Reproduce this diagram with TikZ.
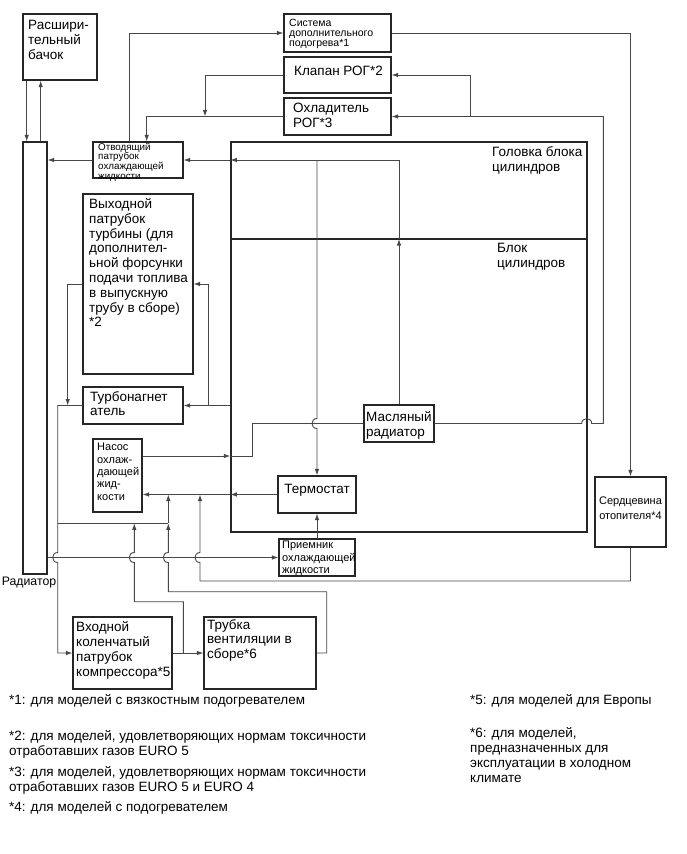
\documentclass[tikz,border=0pt]{standalone}
\usepackage{fontspec}
\setmainfont{Liberation Sans}
\usetikzlibrary{arrows.meta,fit}
\newcommand\fa{\fontsize{13.5}{14.8}\selectfont}
\newcommand\fb{\fontsize{10.5}{10.3}\selectfont}
\newcommand\fc{\fontsize{9.8}{9.2}\selectfont}
\newcommand\fd{\fontsize{11}{12.3}\selectfont}
\newcommand\fe{\fontsize{11}{15.3}\selectfont}
\newcommand\ff{\fontsize{13.5}{15}\selectfont}
\newcommand\fr{\fontsize{12.3}{14}\selectfont}
\begin{document}
\begin{tikzpicture}[x=1pt,y=-1pt,
  box/.style={draw=black!85, line width=1.2pt, inner sep=0pt},
  eng/.style={draw=black!85, line width=1.4pt, inner sep=0pt},
  ln/.style={draw=black!72, line width=0.9pt},
  arr/.style={ln, -{Latex[length=6.5pt,width=4.5pt]}},
  txt/.style={inner sep=0pt, anchor=north west, align=left},
  fn/.style={inner sep=0pt, font=\ff, align=left}]
\useasboundingbox[fill=white] (0,0) rectangle (687,854);

% boxes
\node[box, fit={(23,14) (97,80)}] (bachok) {};
\node[txt, font=\fa] (bachokt) at (28,20) {Расшири-\\тельный\\бачок};
\node[box, fit={(23,142) (47,574)}] (rad) {};
\node[inner sep=0pt, font=\fr] (radt) at (29,583) {Радиатор};
\node[box, fit={(284,14) (391,52)}] (sist) {};
\node[txt, font=\fb] (sistt) at (289,18.8) {Система\\дополнительного\\подогрева*1};
\node[box, fit={(284,57) (391,93)}] (klap) {};
\node[txt, font=\fa] (klapt) at (294,65.7) {Клапан РОГ*2};
\node[box, fit={(284,98) (391,135)}] (ohl) {};
\node[txt, font=\fa] (ohlt) at (293,102.7) {Охладитель\\РОГ*3};
\node[box, fit={(93,142) (183,178)}] (otvod) {};
\node[txt, font=\fc] (otvodt) at (98,143) {Отводящий\\патрубок\\охлаждающей\\жидкости};
\node[box, fit={(83,194) (193,374)}] (vyh) {};
\node[txt, font=\fa] (vyht) at (89,198.3) {Выходной\\патрубок\\турбины (для\\дополнител-\\ьной форсунки\\подачи топлива\\в выпускную\\трубу в сборе)\\*2};
\node[box, fit={(83,387) (183,424)}] (turbo) {};
\node[txt, font=\fa] (turbot) at (90,391) {Турбонагнет\\атель};
\node[box, fit={(93,439) (142,512)}] (nasos) {};
\node[txt, font=\fd] (nasost) at (97,443.2) {Насос\\охлаж-\\дающей\\жид-\\кости};
\node[eng, fit={(231,142) (587,532)}] (engine) {};
\draw[eng] (engine.west |- 0,239) -- (engine.east |- 0,239);
\node[txt, font=\fa] (golt) at (492,146.7) {Головка блока\\цилиндров};
\node[txt, font=\fa] (blokt) at (497,243) {Блок\\цилиндров};
\node[box, fit={(364,405) (434,442)}] (masl) {};
\node[txt, font=\fa] (maslt) at (366,411) {Масляный\\радиатор};
\node[box, fit={(278,476) (356,513)}, font=\fa] (termo) {Термостат};
\node[box, fit={(279,539) (355,576)}] (priem) {};
\node[txt, font=\fd] (priemt) at (282,541) {Приемник\\охлаждающей\\жидкости};
\node[box, fit={(595,477) (666,547)}, font=\fe, align=center] (serd) {Сердцевина\\отопителя*4};
\node[box, fit={(73,617) (172,689)}] (vhod) {};
\node[txt, font=\fa] (vhodt) at (76,621.7) {Входной\\коленчатый\\патрубок\\компрессора*5};
\node[box, fit={(204,617) (316,689)}] (trub) {};
\node[txt, font=\fa] (trubt) at (207,619) {Трубка\\вентиляции в\\сборе*6};

% connectors
\draw[arr] (26.7,0 |- bachok.south) -- (26.7,0 |- rad.north);
\draw[arr] (40.7,0 |- rad.north) -- (40.7,0 |- bachok.south);
\draw[arr] (otvod.west) -- (rad.east |- otvod.west);
\draw[arr] (129,0 |- otvod.north) -- (129,0 |- sist.west) -- (sist.west);
\draw[arr] (sist.east) -- (serd.north |- sist.east) -- (serd.north);
\draw[arr] (serd.south) -- (serd.south |- 0,581) -- (200,581) -- (200,562.5) .. controls (193.3,562.5) and (193.3,552.5) .. (200,552.5) -- (200,0 |- termo.west);
\draw[arr] (klap.west) -- (205,0 |- klap.west) -- (205,0 |- ohl.west);
\draw[arr] (ohl.west) -- (146.7,0 |- ohl.west) -- (146.7,0 |- otvod.north);
\draw[arr] (masl.east) -- (581.7,0 |- masl.east) .. controls (581.7,417) and (591.7,417) .. (591.7,0 |- masl.east) -- (603.3,0 |- masl.east) -- (603.3,0 |- ohl.east) -- (ohl.east);
\draw[arr] (470,0 |- ohl.east) -- (470,0 |- klap.east) -- (klap.east);
\draw[arr] (399,0 |- masl.north) -- (399,239);
\draw[arr] (399,239) -- (399,160) -- (engine.west |- 0,160);
\draw[arr] (engine.west |- 0,160) -- (otvod.east);
\draw[arr] (317,160) -- (317,418.5) .. controls (310.3,418.5) and (310.3,428.5) .. (317,428.5) -- (termo.north);
\draw[arr] (nasos.east |- 0,456) -- (engine.west |- 0,456);
\draw[ln] (engine.west |- 0,456) -- (252.7,456) -- (252.7,0 |- masl.west) -- (masl.west);
\draw[arr] (termo.west) -- (engine.west |- termo.west);
\draw[arr] (engine.west |- termo.west) -- (nasos.east |- termo.west);
\draw[arr] (priem.north) -- (termo.south);
\draw[arr] (rad.east |- priem.west) -- (priem.west);
\draw[arr] (engine.west |- turbo.east) -- (turbo.east);
\draw[arr] (208.3,0 |- turbo.east) -- (208.3,284) -- (vyh.east |- 0,284);
\draw[arr] (vyh.west |- 0,284) -- (67.7,284) -- (67.7,0 |- turbo.west);
\draw[arr] (turbo.west) -- (57.7,0 |- turbo.west) -- (57.7,552.5) .. controls (51,552.5) and (51,562.5) .. (57.7,562.5) -- (57.7,0 |- vhod.west) -- (vhod.west);
\draw[ln] (57.7,523.3) -- (168.3,523.3);
\draw[arr] (vhod.east) -- (trub.west);
\draw[arr] (183.3,0 |- vhod.east) -- (183.3,601.7) -- (134.3,601.7) -- (134.3,562.5) .. controls (127.6,562.5) and (127.6,552.5) .. (134.3,552.5) -- (134.3,523.3);
\draw[arr] (trub.east) -- (326.7,0 |- trub.east) -- (326.7,591.7) -- (168.3,591.7) -- (168.3,562.5) .. controls (161.6,562.5) and (161.6,552.5) .. (168.3,552.5) -- (168.3,523.3);
\draw[arr] (168.3,523.3) -- (168.3,0 |- termo.west);

% footnotes
\node[fn, anchor=west] (f1) at (9,701) {*1: для моделей с вязкостным подогревателем};
\node[fn, anchor=north west] (f2) at (9,730.2) {*2: для моделей, удовлетворяющих нормам токсичности\\отработавших газов EURO 5};
\node[fn, anchor=north west] (f3) at (9,766) {*3: для моделей, удовлетворяющих нормам токсичности\\отработавших газов EURO 5 и EURO 4};
\node[fn, anchor=west] (f4) at (9,808) {*4: для моделей с подогревателем};
\node[fn, anchor=west] (f5) at (470,701) {*5: для моделей для Европы};
\node[fn, anchor=north west] (f6) at (470,727.2) {*6: для моделей,\\предназначенных для\\эксплуатации в холодном\\климате};
\end{tikzpicture}
\end{document}
